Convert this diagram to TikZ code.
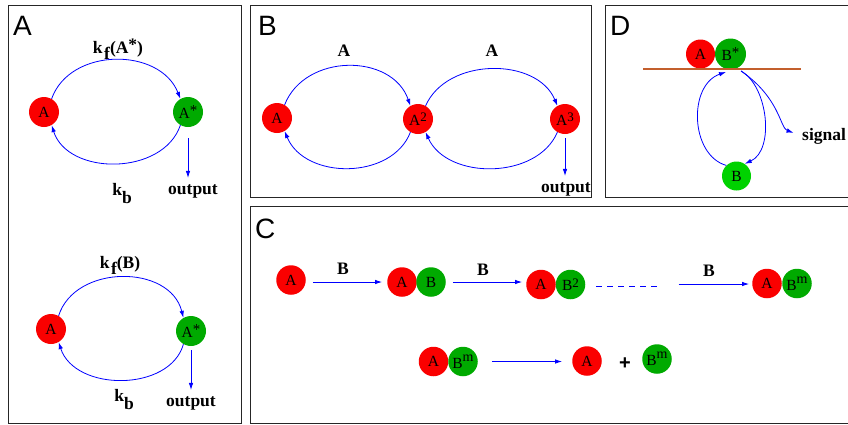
\documentclass[tikz,border=0pt]{standalone}
\usepackage{fontspec}
\setmainfont{Liberation Serif}
\setsansfont{Liberation Sans}
\usetikzlibrary{arrows.meta,shapes.geometric}
\definecolor{mred}{RGB}{250,0,0}
\definecolor{mgreen}{RGB}{0,170,0}
\definecolor{lgreen}{RGB}{0,210,0}
\definecolor{membrane}{RGB}{195,95,45}
\definecolor{arrblue}{RGB}{0,0,255}
\newcommand\mysup[1]{\raisebox{0.22em}{\fontsize{13}{13}\selectfont #1}}
\newcommand\mysupm{\raisebox{0.45em}{\fontsize{14}{14}\selectfont m}}
\newcommand\mystar{\raisebox{0.18em}{\fontsize{15}{15}\selectfont *}}
\begin{document}
\begin{tikzpicture}[x=1pt,y=-1pt,
  mol/.style={circle, minimum size=30pt, inner sep=0pt, font=\fontsize{15.5}{15.5}\selectfont},
  cmol/.style={circle, minimum size=29.5pt, inner sep=0pt, font=\fontsize{15.5}{15.5}\selectfont},
  redm/.style={fill=mred},
  grnm/.style={fill=mgreen},
  lbl/.style={font=\fontsize{17.5}{17.5}\selectfont\bfseries, inner sep=0pt},
  plet/.style={font=\fontsize{28}{28}\selectfont\sffamily, anchor=base west, inner sep=0pt},
  arr/.style={draw=arrblue, line width=0.8pt, -{Latex[length=7pt,width=4.5pt]}},
  panelbox/.style={draw=black!85, line width=1pt}]
\useasboundingbox (0,0) rectangle (848,424);
\fill[white] (0,0) rectangle (848,424);
% panel frames
\draw[panelbox] (8,5) rectangle (241,423);
\draw[panelbox] (250,5) rectangle (591,197);
\draw[panelbox] (605,5) rectangle (852,197);
\draw[panelbox] (250,206) rectangle (852,423);
\node[plet] (pA) at (13,35) {A};
\node[plet] (pB) at (258,35) {B};
\node[plet] (pD) at (610,35) {D};
\node[plet] (pC) at (255,238) {C};

% ---------- Panel A, top ----------
\node[mol,redm] (a1) at (44,112) {A};
\node[mol,grnm] (a1s) at (188,112) {A\mystar};
\draw[arr] (a1.60) .. controls (70,47) and (160,47) .. (a1s.120);
\draw[arr] (a1s.-120) .. controls (163,176) and (68,176) .. (a1.-60);
\node[lbl,anchor=base] (kfA) at (118,53) {k\kern1.5pt\raisebox{-6pt}{f}(A\raisebox{0.15em}{*})};
\node[lbl,anchor=base] (kb1) at (122,195) {k\raisebox{-8pt}{b}};
\node[lbl,anchor=base] (out1) at (193,194) {output};
\draw[arr, shorten <=11pt, shorten >=6pt] (a1s.south) -- (a1s.south |- out1.north);

% ---------- Panel A, bottom ----------
\node[mol,redm] (a2) at (51,329) {A};
\node[mol,grnm] (a2s) at (191,331) {A\mystar};
\draw[arr] (a2.60) .. controls (75,264) and (170,264) .. (a2s.120);
\draw[arr] (a2s.-120) .. controls (170,392) and (75,392) .. (a2.-60);
\node[lbl,anchor=base] (kfB) at (120,268) {k\kern1.5pt\raisebox{-6pt}{f}(B)};
\node[lbl,anchor=base] (kb2) at (124,401) {k\raisebox{-8pt}{b}};
\node[lbl,anchor=base] (out2) at (191,406) {output};
\draw[arr, shorten <=4pt, shorten >=6pt] (a2s.south) -- (a2s.south |- out2.north);

% ---------- Panel B ----------
\node[mol,redm] (b1) at (277,118) {A};
\node[mol,redm] (b2) at (418,119) {A\mysup{2}};
\node[mol,redm] (b3) at (565,119) {A\mysup{3}};
\draw[arr] (b1.60) .. controls (305,53) and (392,53) .. (b2.120);
\draw[arr] (b2.-120) .. controls (392,180) and (305,180) .. (b1.-60);
\draw[arr] (b2.60) .. controls (447,57) and (537,57) .. (b3.120);
\draw[arr] (b3.-120) .. controls (537,180) and (447,180) .. (b2.-60);
\node[lbl,anchor=base] (lA1) at (344,56) {A};
\node[lbl,anchor=base] (lA2) at (492,56) {A};
\node[lbl,anchor=base] (out3) at (566,192) {output};
\draw[arr, shorten <=4pt, shorten >=6pt] (b3.south) -- (b3.south |- out3.north);

% ---------- Panel D ----------
\node[mol,redm,minimum size=29pt] (dA) at (700.5,54) {A};
\node[mol,grnm,minimum size=31pt] (dBs) at (730.5,54) {B\mystar};
\node[mol,fill=lgreen,minimum size=29pt] (dB) at (736.5,176) {B};
\coordinate (m1) at (643,69);
\coordinate (m2) at (801,69);
\draw[membrane, line width=1.6pt] (m1) -- (m2);
\coordinate (bl) at (726,72);
\coordinate (br) at (741,71);
\draw[arr] (dB.134) .. controls (690,155) and (688,85) .. (bl);
\draw[arr] (br) .. controls (768,86) and (775,150) .. (dB.56);
\node[lbl,anchor=base west] (sig) at (802,140) {signal};
\draw[arr, shorten >=9pt] (br) .. controls (780,98) and (780,128) .. (sig.west);

% ---------- Panel C ----------
\node[cmol,redm] (c1) at (291,280) {A};
\node[cmol,redm] (c2a) at (402,282) {A};
\node[cmol,grnm] (c2b) at (431,282) {B};
\node[cmol,redm] (c3a) at (541,284.5) {A};
\node[cmol,grnm] (c3b) at (570.5,284.5) {B\mysup{2}};
\node[cmol,redm] (c4a) at (767,283.5) {A};
\node[cmol,grnm] (c4b) at (797,283.5) {B\mysupm};
\draw[arr, shorten <=7pt, shorten >=5pt] (c2a.west -| c1.east) -- (c2a.west);
\draw[arr, shorten <=7pt, shorten >=4pt] (c2b.east) -- (c2b.east -| c3a.west);
\coordinate (d1) at (596,286);
\coordinate (d2) at (661,286);
\draw[arrblue, line width=0.8pt, dash pattern=on 6pt off 5pt] (d1) -- (d2);
\coordinate (a3s) at (678.5,284);
\draw[arr, shorten >=3pt] (a3s) -- (a3s -| c4a.west);
\node[lbl,anchor=base] (lB1) at (343,274) {B};
\node[lbl,anchor=base] (lB2) at (483,275) {B};
\node[lbl,anchor=base] (lB3) at (709,276) {B};

\node[cmol,redm] (r1a) at (433.5,361.5) {A};
\node[cmol,grnm] (r1b) at (463,361.5) {B\mysupm};
\node[cmol,redm] (r2) at (587,361) {A};
\node[lbl,anchor=base,font=\fontsize{20}{20}\selectfont\bfseries\sffamily] (plus) at (625,369) {+};
\node[cmol,grnm] (r3) at (657,359) {B\mysupm};
\draw[arr, shorten <=14pt, shorten >=10pt] (r1b.east) -- (r1b.east -| r2.west);
\end{tikzpicture}
\end{document}
